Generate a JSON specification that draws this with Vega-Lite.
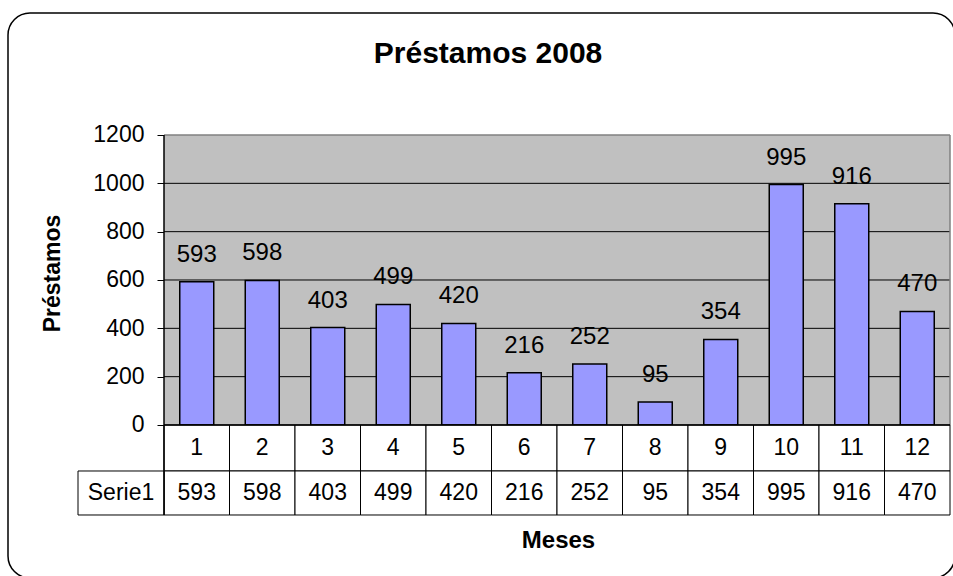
{
  "$schema": "https://vega.github.io/schema/vega-lite/v6.json",
  "width": 947,
  "height": 565,
  "autosize": {"type": "none"},
  "padding": {"left": 8, "top": 13, "right": -2, "bottom": -2},
  "background": "white",
  "config": {
    "font": "Liberation Sans",
    "view": {"stroke": "black", "strokeWidth": 1.5, "cornerRadius": 22, "fill": "white"}
  },
  "datasets": {
    "meses": [
      {"mes": 1, "valor": 593},
      {"mes": 2, "valor": 598},
      {"mes": 3, "valor": 403},
      {"mes": 4, "valor": 499},
      {"mes": 5, "valor": 420},
      {"mes": 6, "valor": 216},
      {"mes": 7, "valor": 252},
      {"mes": 8, "valor": 95},
      {"mes": 9, "valor": 354},
      {"mes": 10, "valor": 995},
      {"mes": 11, "valor": 916},
      {"mes": 12, "valor": 470}
    ],
    "grid": [{"v": 200}, {"v": 400}, {"v": 600}, {"v": 800}, {"v": 1000}],
    "serie": [{"label": "Serie1"}],
    "titulo": [{"t": "Préstamos 2008"}]
  },
  "layer": [
    {
      "data": {"values": [{}]},
      "mark": {"type": "rect", "fill": "#c0c0c0"},
      "encoding": {
        "x": {"datum": 0.5, "type": "quantitative",
          "scale": {"domain": [-1.8817, 12.5763], "nice": false, "zero": false, "padding": 0}},
        "x2": {"datum": 12.5},
        "y": {"datum": 0, "type": "quantitative",
          "scale": {"domain": [-633.1, 1704.8], "nice": false, "zero": false, "padding": 0}},
        "y2": {"datum": 1200}
      }
    },
    {
      "data": {"name": "grid"},
      "mark": {"type": "rule", "color": "black", "strokeWidth": 1},
      "encoding": {
        "x": {"datum": 0.5, "type": "quantitative"},
        "x2": {"datum": 12.5},
        "y": {"field": "v", "type": "quantitative"}
      }
    },
    {
      "data": {"values": [{}]},
      "mark": {"type": "rule", "color": "#808080", "strokeWidth": 1.5},
      "encoding": {
        "x": {"datum": 0.5, "type": "quantitative"},
        "x2": {"datum": 12.5},
        "y": {"datum": 1200, "type": "quantitative"}
      }
    },
    {
      "data": {"values": [{}]},
      "mark": {"type": "rule", "color": "#808080", "strokeWidth": 1.5},
      "encoding": {
        "x": {"datum": 12.5, "type": "quantitative"},
        "y": {"datum": 0, "type": "quantitative"},
        "y2": {"datum": 1200}
      }
    },
    {
      "data": {"name": "meses"},
      "mark": {"type": "bar", "fill": "#9999ff", "stroke": "black", "strokeWidth": 1.5, "width": 34},
      "encoding": {
        "x": {"field": "mes", "type": "quantitative",
          "scale": {"domain": [-1.8817, 12.5763], "nice": false, "zero": false, "padding": 0},
          "axis": {"title": "Meses", "labels": false, "ticks": false, "domain": false, "grid": false,
            "titleFontSize": 24, "titleFontWeight": "bold", "titleColor": "black",
            "titleX": 550, "titleY": -38, "titleBaseline": "middle", "titleAlign": "center"}},
        "y": {"field": "valor", "type": "quantitative",
          "scale": {"domain": [-633.1, 1704.8], "nice": false, "zero": false, "padding": 0},
          "axis": {"title": "Préstamos", "values": [0, 200, 400, 600, 800, 1000, 1200], "format": "d",
            "offset": -156, "domain": false, "grid": false,
            "tickColor": "black", "tickSize": 7, "tickWidth": 1,
            "labelFontSize": 23, "labelColor": "black", "labelPadding": 13,
            "titleFontSize": 23, "titleFontWeight": "bold", "titleColor": "black",
            "titleX": -112, "titleY": 260, "titleAngle": 270, "titleBaseline": "middle", "titleAlign": "center"}},
        "y2": {"datum": 0}
      }
    },
    {
      "data": {"name": "meses"},
      "mark": {"type": "text", "fontSize": 24, "color": "black", "baseline": "alphabetic", "dy": -20},
      "encoding": {
        "x": {"field": "mes", "type": "quantitative"},
        "y": {"field": "valor", "type": "quantitative"},
        "text": {"field": "valor", "type": "quantitative", "format": "d"}
      }
    },
    {
      "data": {"name": "meses"},
      "mark": {"type": "bar", "fill": "white", "stroke": "black", "strokeWidth": 1, "width": 65.5},
      "encoding": {
        "x": {"field": "mes", "type": "quantitative"},
        "y": {"datum": 0, "type": "quantitative"},
        "y2": {"datum": -190.3}
      }
    },
    {
      "data": {"name": "meses"},
      "mark": {"type": "bar", "fill": "white", "stroke": "black", "strokeWidth": 1, "width": 65.5},
      "encoding": {
        "x": {"field": "mes", "type": "quantitative"},
        "y": {"datum": -190.3, "type": "quantitative"},
        "y2": {"datum": -372.4}
      }
    },
    {
      "data": {"name": "serie"},
      "mark": {"type": "bar", "fill": "white", "stroke": "black", "strokeWidth": 1, "width": 86},
      "encoding": {
        "x": {"datum": -0.1565, "type": "quantitative"},
        "y": {"datum": -190.3, "type": "quantitative"},
        "y2": {"datum": -372.4}
      }
    },
    {
      "data": {"name": "meses"},
      "mark": {"type": "text", "fontSize": 23, "color": "black", "baseline": "middle"},
      "encoding": {
        "x": {"field": "mes", "type": "quantitative"},
        "y": {"datum": -95.2, "type": "quantitative"},
        "text": {"field": "mes", "type": "quantitative", "format": "d"}
      }
    },
    {
      "data": {"name": "meses"},
      "mark": {"type": "text", "fontSize": 23, "color": "black", "baseline": "middle"},
      "encoding": {
        "x": {"field": "mes", "type": "quantitative"},
        "y": {"datum": -281.4, "type": "quantitative"},
        "text": {"field": "valor", "type": "quantitative", "format": "d"}
      }
    },
    {
      "data": {"name": "serie"},
      "mark": {"type": "text", "fontSize": 23, "color": "black", "baseline": "middle"},
      "encoding": {
        "x": {"datum": -0.1565, "type": "quantitative"},
        "y": {"datum": -281.4, "type": "quantitative"},
        "text": {"field": "label", "type": "nominal"}
      }
    },
    {
      "data": {"name": "titulo"},
      "mark": {"type": "text", "fontSize": 30, "fontWeight": "bold", "color": "black", "baseline": "middle"},
      "encoding": {
        "x": {"datum": 5.447, "type": "quantitative"},
        "y": {"datum": 1535, "type": "quantitative"},
        "text": {"field": "t", "type": "nominal"}
      }
    },
    {
      "data": {"values": [{}]},
      "mark": {"type": "rule", "color": "black", "strokeWidth": 1.5},
      "encoding": {
        "x": {"datum": 0.5, "type": "quantitative"},
        "x2": {"datum": 12.5},
        "y": {"datum": 0, "type": "quantitative"}
      }
    },
    {
      "data": {"values": [{}]},
      "mark": {"type": "rule", "color": "black", "strokeWidth": 1.5},
      "encoding": {
        "x": {"datum": 0.5, "type": "quantitative"},
        "y": {"datum": 1200, "type": "quantitative"},
        "y2": {"datum": -372.4}
      }
    }
  ]
}
